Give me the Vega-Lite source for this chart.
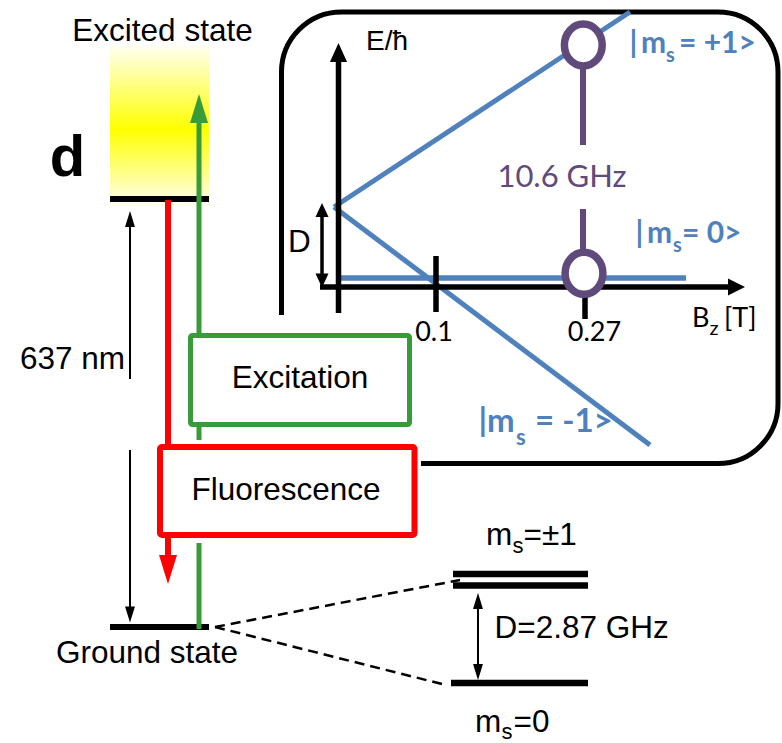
{
  "$schema": "https://vega.github.io/schema/vega-lite/v6.json",
  "width": 782,
  "height": 743,
  "padding": 0,
  "autosize": {"type": "none"},
  "background": "white",
  "config": {"view": {"stroke": null}},
  "datasets": {
    "yellow": [{"x": 110, "x2": 209, "y": 46, "y2": 206}],
    "dashed": [{"x": 215, "y": 627, "x2": 460, "y2": 580}, {"x": 215, "y": 627, "x2": 442, "y2": 684}],
    "inset": [{"x": 281.5, "x2": 778, "y": 12, "y2": 463.5}],
    "occluder": [{"x": 266, "x2": 421, "y": 315, "y2": 476}],
    "blueDiag": [{"x": 334, "y": 207, "x2": 630, "y2": 12}, {"x": 334, "y": 207, "x2": 650, "y2": 445}],
    "blueZero": [{"x": 340, "y": 278, "x2": 686, "y2": 278}],
    "axes": [{"x": 338.5, "y": 60, "x2": 338.5, "y2": 313}, {"x": 320, "y": 287, "x2": 731, "y2": 287}, {"x": 436, "y": 256, "x2": 436, "y2": 312}, {"x": 585, "y": 290, "x2": 585, "y2": 319}],
    "dArrow": [{"x": 322, "y": 214, "x2": 322, "y2": 276}],
    "purpleLines": [{"x": 583, "y": 66, "x2": 583, "y2": 145}, {"x": 583, "y": 209, "x2": 583, "y2": 252}],
    "circles": [{"x": 583.3, "y": 45}, {"x": 584, "y": 273.3}],
    "axisUp": [{"x": 338.5, "y": 52.5}],
    "axisRight": [{"x": 736.5, "y": 287}],
    "dUp": [{"x": 322, "y": 210}],
    "dDown": [{"x": 322, "y": 280.5}],
    "levelsLeft": [{"x": 110, "x2": 209, "y": 199, "y2": 199}, {"x": 110, "x2": 209, "y": 627, "y2": 627}],
    "levelsRight": [{"x": 453, "x2": 588, "y": 574, "y2": 574}, {"x": 453, "x2": 588, "y": 585.5, "y2": 585.5}, {"x": 451, "x2": 588, "y": 683, "y2": 683}],
    "thin": [{"x": 130, "y": 222, "x2": 130, "y2": 379}, {"x": 130, "y": 450, "x2": 130, "y2": 611}, {"x": 478, "y": 606, "x2": 478, "y2": 667}],
    "thinUp": [{"x": 130, "y": 219}, {"x": 478, "y": 601}],
    "thinDown": [{"x": 130, "y": 614.5}, {"x": 478, "y": 672}],
    "red": [{"x": 168, "y": 200, "x2": 168, "y2": 557}],
    "redHead": [{"x": 168, "y": 569.5}],
    "green": [{"x": 199, "y": 122, "x2": 199, "y2": 440}, {"x": 199, "y": 543, "x2": 199, "y2": 629}],
    "greenHead": [{"x": 199, "y": 108.5}],
    "exc": [{"x": 190.5, "x2": 409.5, "y": 335.5, "y2": 424.5}],
    "flu": [{"x": 160, "x2": 414.5, "y": 447, "y2": 535}],
    "arialCenter": [{"x": 162.5, "y": 41, "t": "Excited state"}, {"x": 300, "y": 388, "t": "Excitation"}, {"x": 286, "y": 500, "t": "Fluorescence"}, {"x": 147, "y": 663, "t": "Ground state"}],
    "arialLeft": [{"x": 20, "y": 369, "t": "637 nm"}, {"x": 494.5, "y": 638, "t": "D=2.87 GHz"}, {"x": 288, "y": 252, "t": "D"}, {"x": 486, "y": 545, "t": "m"}, {"x": 523.5, "y": 545, "t": "=±1"}, {"x": 475, "y": 732, "t": "m"}, {"x": 513.5, "y": 732, "t": "=0"}],
    "arialSub": [{"x": 512.5, "y": 553, "t": "s"}, {"x": 501.5, "y": 739, "t": "s"}],
    "eh": [{"x": 366, "y": 50, "t": "E/ħ"}],
    "bigD": [{"x": 67.5, "y": 176, "t": "d"}],
    "latoCenter": [{"x": 434, "y": 341, "t": "0.1"}, {"x": 594.5, "y": 341, "t": "0.27"}],
    "latoLeft": [{"x": 692, "y": 327, "t": "B"}, {"x": 724, "y": 327, "t": "[T]"}],
    "latoSub": [{"x": 709.5, "y": 335, "t": "z"}],
    "purpleText": [{"x": 562, "y": 187, "t": "10.6 GHz"}],
    "blue30": [{"x": 629.5, "y": 53, "t": "|"}, {"x": 641, "y": 53, "t": "m"}, {"x": 679, "y": 53, "t": "= +1>"}, {"x": 635.5, "y": 243, "t": "|"}, {"x": 647, "y": 243, "t": "m"}, {"x": 682, "y": 243, "t": "= 0>"}],
    "blue20": [{"x": 666, "y": 62, "t": "s"}, {"x": 673, "y": 252, "t": "s"}],
    "blue33": [{"x": 478.5, "y": 432, "t": "|"}, {"x": 487, "y": 432, "t": "m"}, {"x": 535, "y": 432, "t": "= -1>"}],
    "blue22": [{"x": 516, "y": 445, "t": "s"}]
  },
  "encoding": {
    "x": {"field": "x", "type": "quantitative", "scale": {"domain": [0, 782], "nice": false, "zero": false}, "axis": null},
    "y": {"field": "y", "type": "quantitative", "scale": {"domain": [743, 0], "nice": false, "zero": false}, "axis": null}
  },
  "layer": [
    {"data": {"name": "yellow"}, "mark": {"type": "rect", "fill": {"gradient": "linear", "x1": 0, "y1": 0, "x2": 0, "y2": 1, "stops": [{"offset": 0, "color": "#fffff2"}, {"offset": 0.52, "color": "#ffff00"}, {"offset": 1, "color": "#fffff2"}]}}, "encoding": {"x2": {"field": "x2"}, "y2": {"field": "y2"}}},
    {"data": {"name": "dashed"}, "mark": {"type": "rule", "color": "black", "strokeWidth": 2.5, "strokeDash": [10, 6]}, "encoding": {"x2": {"field": "x2"}, "y2": {"field": "y2"}}},
    {"data": {"name": "inset"}, "mark": {"type": "rect", "fill": "transparent", "stroke": "black", "strokeWidth": 5, "cornerRadius": 60}, "encoding": {"x2": {"field": "x2"}, "y2": {"field": "y2"}}},
    {"data": {"name": "occluder"}, "mark": {"type": "rect", "fill": "white", "strokeWidth": 0}, "encoding": {"x2": {"field": "x2"}, "y2": {"field": "y2"}}},
    {"data": {"name": "blueDiag"}, "mark": {"type": "rule", "color": "#4f81bd", "strokeWidth": 5}, "encoding": {"x2": {"field": "x2"}, "y2": {"field": "y2"}}},
    {"data": {"name": "blueZero"}, "mark": {"type": "rule", "color": "#4f81bd", "strokeWidth": 5.7}, "encoding": {"x2": {"field": "x2"}, "y2": {"field": "y2"}}},
    {"data": {"name": "axes"}, "mark": {"type": "rule", "color": "black", "strokeWidth": 5.5}, "encoding": {"x2": {"field": "x2"}, "y2": {"field": "y2"}}},
    {"data": {"name": "dArrow"}, "mark": {"type": "rule", "color": "black", "strokeWidth": 3.5}, "encoding": {"x2": {"field": "x2"}, "y2": {"field": "y2"}}},
    {"data": {"name": "purpleLines"}, "mark": {"type": "rule", "color": "#604a7b", "strokeWidth": 6}, "encoding": {"x2": {"field": "x2"}, "y2": {"field": "y2"}}},
    {"data": {"name": "circles"}, "mark": {"type": "point", "shape": "M0,-1A0.9,1 0 1,1 0,1A0.9,1 0 1,1 0,-1Z", "size": 1764, "filled": true, "fill": "white", "stroke": "#604a7b", "strokeWidth": 7.5, "opacity": 1}},
    {"data": {"name": "axisUp"}, "mark": {"type": "point", "shape": "M0,-1L0.9,1L-0.9,1Z", "size": 361, "filled": true, "color": "black", "opacity": 1}},
    {"data": {"name": "axisRight"}, "mark": {"type": "point", "shape": "M1,0L-1,1L-1,-1Z", "size": 289, "filled": true, "color": "black", "opacity": 1}},
    {"data": {"name": "dUp"}, "mark": {"type": "point", "shape": "M0,-1L0.93,1L-0.93,1Z", "size": 196, "filled": true, "color": "black", "opacity": 1}},
    {"data": {"name": "dDown"}, "mark": {"type": "point", "shape": "M0,1L0.93,-1L-0.93,-1Z", "size": 196, "filled": true, "color": "black", "opacity": 1}},
    {"data": {"name": "levelsLeft"}, "mark": {"type": "rule", "color": "black", "strokeWidth": 6}, "encoding": {"x2": {"field": "x2"}, "y2": {"field": "y2"}}},
    {"data": {"name": "levelsRight"}, "mark": {"type": "rule", "color": "black", "strokeWidth": 6.5}, "encoding": {"x2": {"field": "x2"}, "y2": {"field": "y2"}}},
    {"data": {"name": "thin"}, "mark": {"type": "rule", "color": "black", "strokeWidth": 2}, "encoding": {"x2": {"field": "x2"}, "y2": {"field": "y2"}}},
    {"data": {"name": "thinUp"}, "mark": {"type": "point", "shape": "M0,-1L0.62,1L-0.62,1Z", "size": 256, "filled": true, "color": "black", "opacity": 1}},
    {"data": {"name": "thinDown"}, "mark": {"type": "point", "shape": "M0,1L0.62,-1L-0.62,-1Z", "size": 256, "filled": true, "color": "black", "opacity": 1}},
    {"data": {"name": "red"}, "mark": {"type": "rule", "color": "#ff0000", "strokeWidth": 6}, "encoding": {"x2": {"field": "x2"}, "y2": {"field": "y2"}}},
    {"data": {"name": "green"}, "mark": {"type": "rule", "color": "#379b37", "strokeWidth": 5}, "encoding": {"x2": {"field": "x2"}, "y2": {"field": "y2"}}},
    {"data": {"name": "exc"}, "mark": {"type": "rect", "fill": "white", "stroke": "#379b37", "strokeWidth": 5, "cornerRadius": 2}, "encoding": {"x2": {"field": "x2"}, "y2": {"field": "y2"}}},
    {"data": {"name": "flu"}, "mark": {"type": "rect", "fill": "white", "stroke": "#ff0000", "strokeWidth": 6, "cornerRadius": 2}, "encoding": {"x2": {"field": "x2"}, "y2": {"field": "y2"}}},
    {"data": {"name": "redHead"}, "mark": {"type": "point", "shape": "M0,1L0.62,-1L-0.62,-1Z", "size": 841, "filled": true, "color": "#ff0000", "opacity": 1}},
    {"data": {"name": "greenHead"}, "mark": {"type": "point", "shape": "M0,-1L0.62,1L-0.62,1Z", "size": 841, "filled": true, "color": "#379b37", "opacity": 1}},
    {"data": {"name": "arialCenter"}, "mark": {"type": "text", "font": "Liberation Sans", "fontSize": 31.5, "align": "center", "baseline": "alphabetic", "color": "black"}, "encoding": {"text": {"field": "t"}}},
    {"data": {"name": "arialLeft"}, "mark": {"type": "text", "font": "Liberation Sans", "fontSize": 31.5, "align": "left", "baseline": "alphabetic", "color": "black"}, "encoding": {"text": {"field": "t"}}},
    {"data": {"name": "arialSub"}, "mark": {"type": "text", "font": "Liberation Sans", "fontSize": 22, "align": "left", "baseline": "alphabetic", "color": "black"}, "encoding": {"text": {"field": "t"}}},
    {"data": {"name": "eh"}, "mark": {"type": "text", "font": "Liberation Sans", "fontSize": 28, "align": "left", "baseline": "alphabetic", "color": "black"}, "encoding": {"text": {"field": "t"}}},
    {"data": {"name": "bigD"}, "mark": {"type": "text", "font": "Liberation Sans", "fontSize": 58, "fontWeight": "bold", "align": "center", "baseline": "alphabetic", "color": "black"}, "encoding": {"text": {"field": "t"}}},
    {"data": {"name": "latoCenter"}, "mark": {"type": "text", "font": "Lato", "fontSize": 27, "align": "center", "baseline": "alphabetic", "color": "black"}, "encoding": {"text": {"field": "t"}}},
    {"data": {"name": "latoLeft"}, "mark": {"type": "text", "font": "Lato", "fontSize": 27, "align": "left", "baseline": "alphabetic", "color": "black"}, "encoding": {"text": {"field": "t"}}},
    {"data": {"name": "latoSub"}, "mark": {"type": "text", "font": "Lato", "fontSize": 20, "align": "left", "baseline": "alphabetic", "color": "black"}, "encoding": {"text": {"field": "t"}}},
    {"data": {"name": "purpleText"}, "mark": {"type": "text", "font": "Lato", "fontSize": 31, "align": "center", "baseline": "alphabetic", "color": "#604a7b"}, "encoding": {"text": {"field": "t"}}},
    {"data": {"name": "blue30"}, "mark": {"type": "text", "font": "Lato", "fontSize": 30, "fontWeight": "bold", "align": "left", "baseline": "alphabetic", "color": "#4f81bd"}, "encoding": {"text": {"field": "t"}}},
    {"data": {"name": "blue20"}, "mark": {"type": "text", "font": "Lato", "fontSize": 20, "fontWeight": "bold", "align": "left", "baseline": "alphabetic", "color": "#4f81bd"}, "encoding": {"text": {"field": "t"}}},
    {"data": {"name": "blue33"}, "mark": {"type": "text", "font": "Lato", "fontSize": 33, "fontWeight": "bold", "align": "left", "baseline": "alphabetic", "color": "#4f81bd"}, "encoding": {"text": {"field": "t"}}},
    {"data": {"name": "blue22"}, "mark": {"type": "text", "font": "Lato", "fontSize": 22, "fontWeight": "bold", "align": "left", "baseline": "alphabetic", "color": "#4f81bd"}, "encoding": {"text": {"field": "t"}}}
  ]
}
